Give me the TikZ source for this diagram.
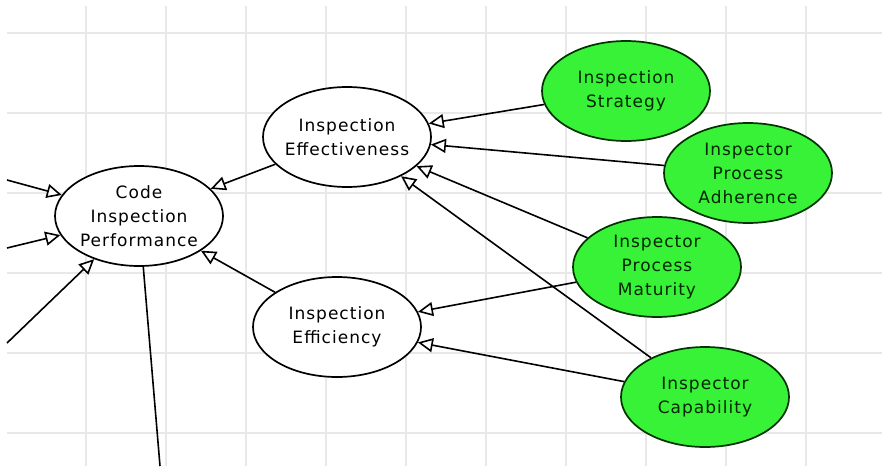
\documentclass[tikz,border=0pt]{standalone}
\usepackage{fontspec}
\setmainfont[LetterSpace=6]{DejaVu Sans}
\usetikzlibrary{arrows.meta, shapes.geometric}

\definecolor{drivergreen}{RGB}{55,242,55}
\definecolor{gridgray}{RGB}{232,232,232}

\tikzset{
  factor/.style={ellipse, draw, line width=1.7pt, fill=white,
    minimum width=168pt, minimum height=100pt,
    inner xsep=-14pt, inner ysep=-4pt, align=center,
    font=\fontsize{17}{24}\selectfont},
  driver/.style={factor, fill=drivergreen, draw=black!80!green, text=black!85!green},
  influence/.style={line width=1.6pt, -{Triangle[open, fill=white, length=15pt, width=14pt]}}
}

\begin{document}
\begin{tikzpicture}[x=1pt, y=-1pt]
  % Page frame
  \useasboundingbox[fill=white] (0,0) rectangle (882,466);

  % Background grid
  \foreach \gx in {86,166,...,806}
    \draw[gridgray, line width=1.4pt] (\gx,6) -- (\gx,466);
  \foreach \gy in {33,113,...,433}
    \draw[gridgray, line width=1.4pt] (7,\gy) -- (882,\gy);

  % Outcome and intermediate factors
  \node[factor] (cip) at (139,216) {Code\\Inspection\\Performance};
  \node[factor] (effect) at (347,137) {Inspection\\Effectiveness};
  \node[factor] (effic) at (337,327) {Inspection\\Efficiency};

  % Driving factors
  \node[driver] (strategy) at (626,91) {Inspection\\Strategy};
  \node[driver] (adhere) at (748,173) {Inspector\\Process\\Adherence};
  \node[driver] (maturity) at (657,267) {Inspector\\Process\\Maturity};
  \node[driver] (capab) at (705,397) {Inspector\\Capability};

  % Loose ends running off the page
  \coordinate (in1) at (7,180);
  \coordinate (in2) at (7,248);
  \coordinate (in3) at (7,343);
  \coordinate (down) at (160,466);

  % Influence arrows
  \draw[influence] (effect) -- (cip);
  \draw[influence] (effic) -- (cip);
  \draw[influence] (strategy) -- (effect);
  \draw[influence] (adhere) -- (effect);
  \draw[influence] (maturity) -- (effect);
  \draw[influence] (capab) -- (effect);
  \draw[influence] (maturity) -- (effic);
  \draw[influence] (capab) -- (effic);

  \draw[influence] (in1) -- (cip);
  \draw[influence] (in2) -- (cip);
  \draw[influence] (in3) -- (cip);
  \draw[line width=1.6pt] (cip) -- (down);
\end{tikzpicture}
\end{document}
